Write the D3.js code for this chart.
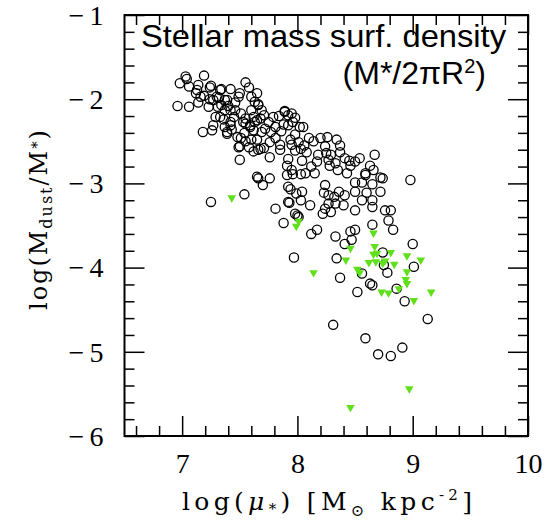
<!DOCTYPE html>
<html>
<head>
<meta charset="utf-8">
<script src="https://cdn.jsdelivr.net/npm/d3@7"></script>
<style>
body { margin: 0; background: #fff; }
svg text { font-family: "Liberation Serif", "DejaVu Serif", serif; fill: #000; }
</style>
</head>
<body>
<svg id="chart" width="546" height="526"></svg>
<script>
// tick labels
const xTicks = [7, 8, 9, 10];
const yTicks = [-1, -2, -3, -4, -5, -6];

// black open circles: log(mu*) and log(Mdust/M*)
const dustX = [
  6.98,7.03,7.04,7.19,7.06,7.14,7.25,7.12,7.19,6.96,7.06,7.14,7.23,7.24,7.34,7.42,7.55,7.58,7.50,7.32,
  7.37,7.34,7.40,7.46,7.37,7.29,7.36,7.42,7.37,7.43,7.39,7.18,7.26,7.49,7.50,7.54,7.53,7.60,7.63,7.66,
  7.58,7.60,7.66,7.65,7.62,7.55,7.59,7.49,7.27,7.31,7.62,
  7.13,7.16,7.24,7.30,7.33,7.39,7.42,7.45,7.33,7.27,7.42,7.39,7.48,7.50,
  7.51,7.55,7.59,7.63,7.68,7.51,7.55,7.65,7.69,7.62,7.71,7.46,7.69,7.65,7.60,
  7.66,7.65,7.71,7.75,7.79,7.84,7.89,7.95,7.98,7.72,7.77,7.81,7.86,7.88,7.92,7.96,8.02,8.05,7.98,7.94,
  8.01,8.06,8.10,8.14,7.81,7.85,7.76,7.68,7.76,7.85,7.95,7.98,8.03,8.08,8.04,7.92,7.91,7.95,7.91,8.03,
  8.07,8.12,8.17,8.18,8.20,8.26,8.24,8.25,8.29,8.27,8.28,8.33,8.35,8.34,8.37,8.37,8.41,8.45,8.46,8.43,
  8.50,8.54,8.59,8.56,8.63,8.67,8.72,8.65,8.72,8.60,8.50,8.50,8.41,8.36,8.32,8.27,8.24,8.23,8.15,7.66,
  7.70,7.76,7.92,7.99,8.04,7.92,7.81,7.98,8.11,8.24,8.29,8.33,8.40,8.50,8.56,8.65,
  7.25,7.54,7.94,8.03,7.93,8.00,8.01,7.88,8.17,8.12,8.22,7.97,7.96,8.27,7.89,7.92,8.59,
  8.66,8.74,8.98,8.65,8.76,8.81,8.79,8.83,8.65,9.00,8.74,
  8.33,8.46,8.50,8.41,8.47,8.34,8.75,8.78,9.01,8.37,8.56,8.63,8.65,8.52,8.86,8.93,9.13,8.31,8.59,8.91,
  8.70,8.81
];
const dustY = [
  -1.81,-1.73,-1.76,-1.72,-1.85,-1.83,-1.84,-1.93,-1.96,-2.08,-2.09,-2.04,-2.09,-2.00,-1.88,-1.88,-1.80,-1.86,-1.93,-1.98,
  -2.01,-2.07,-2.08,-2.04,-2.13,-2.21,-2.24,-2.27,-2.33,-2.36,-2.41,-2.39,-2.37,-2.57,-2.72,-2.40,-2.27,-2.13,-2.03,-2.07,
  -2.57,-2.48,-2.60,-2.92,-2.37,-2.29,-2.33,-1.97,-2.01,-2.09,-2.21,
  -1.89,-1.97,-1.86,-1.97,-1.89,-2.01,-2.13,-2.21,-2.21,-2.31,-2.31,-2.39,-2.45,-2.56,
  -2.17,-2.23,-2.31,-2.27,-2.23,-2.46,-2.50,-2.48,-2.39,-2.62,-2.58,-2.13,-2.13,-1.93,-1.97,
  -2.06,-2.25,-2.19,-2.27,-2.21,-2.20,-2.14,-2.17,-2.22,-2.35,-2.39,-2.33,-2.38,-2.30,-2.31,-2.27,-2.33,-2.33,-2.42,-2.48,
  -2.51,-2.55,-2.46,-2.50,-2.46,-2.54,-2.51,-2.59,-2.69,-2.60,-2.54,-2.61,-2.59,-2.63,-2.73,-2.71,-2.79,-2.84,-2.90,-2.89,
  -2.88,-2.80,-2.74,-2.66,-2.46,-2.45,-2.56,-2.64,-2.66,-2.72,-2.79,-2.76,-2.84,-2.48,-2.55,-2.63,-2.70,-2.73,-2.79,-2.88,
  -2.74,-2.70,-2.90,-2.99,-2.79,-2.66,-2.93,-3.01,-3.10,-3.11,-2.99,-3.10,-3.14,-3.10,-3.16,-3.14,-3.02,-3.11,-2.88,-2.94,
  -3.02,-2.94,-3.04,-3.12,-3.10,-3.22,-3.30,-3.36,-3.26,-3.30,-3.34,-3.24,-3.26,-3.32,-3.20,-3.20,
  -3.22,-3.13,-3.07,-3.20,-3.23,-3.38,-3.40,-3.47,-3.55,-3.60,-3.36,-3.88,-2.89,-3.24,-2.15,-2.19,-2.88,
  -2.84,-2.94,-2.96,-3.28,-3.32,-3.32,-3.44,-3.55,-3.49,-3.72,-3.82,
  -3.63,-3.57,-3.55,-3.72,-3.67,-3.89,-3.97,-4.06,-3.99,-4.12,-4.07,-4.19,-4.21,-4.29,-4.25,-4.40,-4.61,-4.68,-4.84,-4.95,
  -5.03,-5.05
];

// green downward triangles
const limitX = [7.43,8.01,7.99,8.14,8.46,8.42,8.66,8.67,8.66,8.69,8.81,8.62,8.68,8.74,8.76,8.84,8.95,9.07,8.52,8.54,
  8.95,8.94,8.95,8.73,8.79,8.88,9.01,9.16,8.97,8.46];
const limitY = [-3.17,-3.45,-3.51,-4.06,-3.77,-3.91,-3.59,-3.75,-3.84,-3.83,-3.82,-3.94,-3.93,-3.95,-3.92,-3.96,-3.86,-3.91,-4.02,-4.06,
  -4.05,-4.14,-4.19,-4.29,-4.30,-4.25,-4.39,-4.29,-5.44,-5.66];

const padL = 124.5, padR = 528, padT = 15, padB = 436;
const svg = d3.select('#chart');

const x = d3.scaleLinear().domain([6.5, 10]).range([padL, padR]);
const y = d3.scaleLinear().domain([-6, -1]).range([padB, padT]);

const minorX = d3.range(66, 100, 2).filter(v => v % 10 != 0).map(v => v / 10);
const minorY = d3.range(-58, -10, 2).filter(v => v % 10 != 0).map(v => v / 10);

function ticks(axis, tr) {
  const g = svg.append('g').attr('transform', tr).call(axis);
  g.select('.domain').remove();
  g.selectAll('line').attr('stroke', '#000').attr('stroke-width', 1.5);
  return g;
}

// bottom
const gx = ticks(d3.axisBottom(x).tickValues(xTicks).tickSize(-20).tickFormat(d3.format('d')), `translate(0,${padB})`);
gx.selectAll('text').attr('y', 37).attr('dy', null).attr('font-size', 28).attr('font-family', 'Liberation Serif');
ticks(d3.axisBottom(x).tickValues(minorX).tickSize(-10).tickFormat(''), `translate(0,${padB})`);
// top
ticks(d3.axisTop(x).tickValues(xTicks).tickSize(-20).tickFormat(''), `translate(0,${padT})`);
ticks(d3.axisTop(x).tickValues(minorX).tickSize(-10).tickFormat(''), `translate(0,${padT})`);
// left
const gy = ticks(d3.axisLeft(y).tickValues(yTicks).tickSize(-20).tickPadding(21).tickFormat(d3.format('d')), `translate(${padL},0)`);
gy.selectAll('text').attr('dy', '0.33em').attr('font-size', 28).attr('font-family', 'Liberation Serif')
  .attr('textLength', 35).attr('lengthAdjust', 'spacing');
ticks(d3.axisLeft(y).tickValues(minorY).tickSize(-10).tickFormat(''), `translate(${padL},0)`);
// right
ticks(d3.axisRight(y).tickValues(yTicks).tickSize(-20).tickFormat(''), `translate(${padR},0)`);
ticks(d3.axisRight(y).tickValues(minorY).tickSize(-10).tickFormat(''), `translate(${padR},0)`);

svg.append('rect')
  .attr('x', padL).attr('y', padT)
  .attr('width', padR - padL).attr('height', padB - padT)
  .attr('fill', 'none').attr('stroke', '#000').attr('stroke-width', 2);

// points
svg.append('g').selectAll('circle')
  .data(dustX.map((d, i) => [d, dustY[i]]))
  .join('circle')
  .attr('cx', d => x(d[0])).attr('cy', d => y(d[1]))
  .attr('r', 4.6)
  .attr('fill', 'none').attr('stroke', '#000').attr('stroke-width', 1.3);

const tri = d3.symbol().type(d3.symbolTriangle).size(32);
svg.append('g').selectAll('path')
  .data(limitX.map((d, i) => [d, limitY[i]]))
  .join('path')
  .attr('d', tri)
  .attr('transform', d => `translate(${x(d[0])},${y(d[1])}) rotate(180)`)
  .attr('fill', '#5fe01a');

// annotation
svg.append('text')
  .attr('x', 141).attr('y', 46.5)
  .style('font-family', '"Liberation Sans", Arial, sans-serif')
  .attr('font-size', 32)
  .attr('textLength', 365).attr('lengthAdjust', 'spacingAndGlyphs')
  .text('Stellar mass surf. density');

const t2 = svg.append('text')
  .attr('x', 486).attr('y', 84).attr('text-anchor', 'end')
  .style('font-family', '"Liberation Sans", Arial, sans-serif')
  .attr('font-size', 32);
t2.append('tspan').text('(M*/2\u03c0R');
t2.append('tspan').attr('font-size', 20).attr('dy', -11).text('2');
t2.append('tspan').attr('dy', 11).text(')');

// x title
const xt = svg.append('text').attr('x', 182).attr('y', 510)
  .style('font-family', '"DejaVu Serif", serif').attr('font-size', 25)
  .attr('textLength', 290).attr('lengthAdjust', 'spacing');
xt.append('tspan').text('log(');
xt.append('tspan').attr('font-style', 'italic').text('\u03bc');
xt.append('tspan').attr('font-size', 15).attr('dy', 4).text('*');
xt.append('tspan').attr('dy', -4).text(')  [M');
xt.append('tspan').attr('font-size', 16).attr('dy', 6).text('\u2299');
xt.append('tspan').attr('dy', -6).text('  kpc');
xt.append('tspan').attr('font-size', 15).attr('dy', -10).text('-2');
xt.append('tspan').attr('dy', 10).text(']');

// y title
const yt = svg.append('text')
  .attr('transform', 'translate(47,220) rotate(-90)')
  .style('font-family', '"DejaVu Serif", serif')
  .attr('text-anchor', 'middle').attr('font-size', 24)
  .attr('textLength', 180).attr('lengthAdjust', 'spacing');
yt.append('tspan').text('log(M');
yt.append('tspan').attr('font-size', 16).attr('dy', 5).text('dust');
yt.append('tspan').attr('dy', -5).text('/M');
yt.append('tspan').attr('font-size', 15).attr('dy', -5).text('*');
yt.append('tspan').attr('dy', 5).text(')');
</script>
</body>
</html>
